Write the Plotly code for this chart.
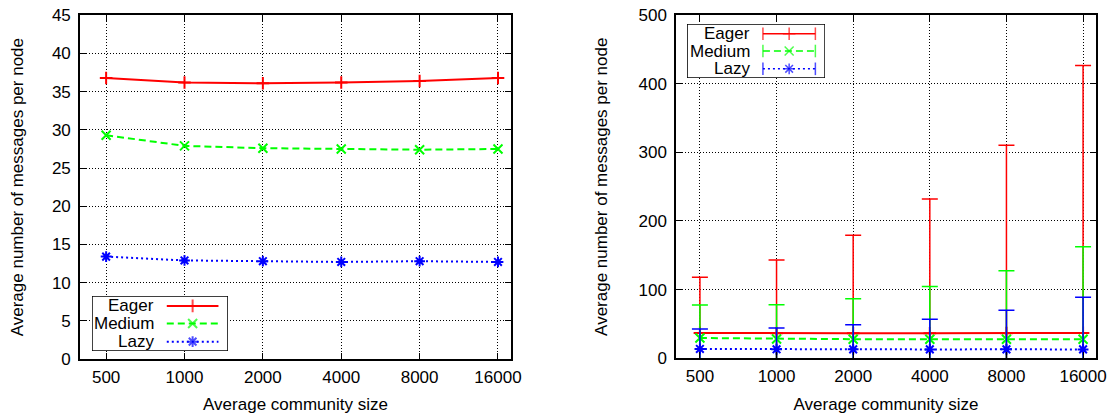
import plotly.graph_objects as go

# ---- data ----
sizes = [500, 1000, 2000, 4000, 8000, 16000]
tick_labels = ["500", "1000", "2000", "4000", "8000", "16000"]
series_names = ["Eager", "Medium", "Lazy"]
eager = [36.8, 36.2, 36.1, 36.2, 36.4, 36.8]
medium = [29.3, 27.9, 27.6, 27.5, 27.4, 27.5]
lazy = [13.4, 12.9, 12.8, 12.7, 12.8, 12.7]
eager_err = [81, 107, 143, 196, 274, 390]
medium_err = [48, 50, 59, 77, 100, 135]
lazy_err = [29, 31, 36, 44, 57, 76]
left_yticks = list(range(0, 46, 5))
right_yticks = list(range(0, 501, 100))

means = [eager, medium, lazy]
errs = [eager_err, medium_err, lazy_err]

# ---- style ----
colors = ["#ff0000", "#00ff00", "#0000ff"]
dashes = ["solid", "7px,4px", "2px,3px"]
symbols = ["cross-thin-open", "x-thin-open", "asterisk-open"]
FONT = "Liberation Sans, Arial, Helvetica, sans-serif"
FS = 17

fig = go.Figure()

# main data traces
for i, name in enumerate(series_names):
    fig.add_trace(go.Scatter(
        x=sizes, y=means[i], mode="lines+markers", name=name, showlegend=False,
        line=dict(color=colors[i], width=2, dash=dashes[i]),
        marker=dict(symbol=symbols[i], size=9, color=colors[i],
                    line=dict(color=colors[i], width=2)),
        xaxis="x", yaxis="y"))
for i, name in enumerate(series_names):
    fig.add_trace(go.Scatter(
        x=sizes, y=means[i], mode="lines+markers", name=name, showlegend=False,
        line=dict(color=colors[i], width=2, dash=dashes[i]),
        marker=dict(symbol=symbols[i], size=9, color=colors[i],
                    line=dict(color=colors[i], width=2)),
        error_y=dict(type="data", array=errs[i], symmetric=True,
                     color=colors[i], thickness=1.5, width=8),
        xaxis="x2", yaxis="y2"))

# custom gnuplot-style legends (text right, sample on the right)
legend_rows = [0.82, 0.5, 0.17]
for lx, ly, with_caps in (("x3", "y3", False), ("x4", "y4", True)):
    fig.add_shape(type="rect", xref=lx, yref=ly, x0=0, x1=1, y0=0, y1=1,
                  fillcolor="white", line=dict(color="black", width=1.5),
                  layer="below")
    for i, name in enumerate(series_names):
        fig.add_annotation(xref=lx, yref=ly, x=0.47, y=legend_rows[i], text=name,
                           showarrow=False, xanchor="right", yanchor="middle",
                           font=dict(family=FONT, size=FS, color="black"))
        if with_caps:
            syms = ["line-ns-open", symbols[i], "line-ns-open"]
            szs = [9, 9, 9]
        else:
            syms = [symbols[i]] * 3
            szs = [0, 9, 0]
        fig.add_trace(go.Scatter(
            x=[0.55, 0.74, 0.93], y=[legend_rows[i]] * 3, mode="lines+markers",
            showlegend=False, hoverinfo="skip",
            line=dict(color=colors[i], width=2 if not with_caps else 1.5, dash=dashes[i]),
            marker=dict(symbol=syms, size=szs, color=colors[i],
                        line=dict(color=colors[i], width=2 if not with_caps else 1.5)),
            xaxis=lx, yaxis=ly))

grid = dict(showgrid=True, gridcolor="black", gridwidth=1, griddash="1px,2px",
            showline=True, linecolor="black", linewidth=1.5, mirror="allticks",
            ticks="inside", ticklen=6, tickwidth=1, tickcolor="black",
            zeroline=False, automargin=False,
            tickfont=dict(family=FONT, size=FS, color="black"))
title_font = dict(family=FONT, size=FS, color="black")

fig.update_layout(
    width=1111, height=414, margin=dict(l=0, r=0, t=0, b=0),
    paper_bgcolor="white", plot_bgcolor="white", showlegend=False,
    font=dict(family=FONT, size=FS, color="black"),
    xaxis=dict(domain=[0.072, 0.46], type="log", range=[2.5986, 4.2543],
               tickvals=sizes, ticktext=tick_labels, anchor="y", ticklabelstandoff=2,
               title=dict(text="Average community size", font=title_font, standoff=14),
               **grid),
    yaxis=dict(domain=[0.133, 0.963], range=[0, 45], tickvals=left_yticks, anchor="x",
               ticklabelstandoff=4,
               title=dict(text="Average number of messages per node", font=title_font,
                          standoff=24),
               **grid),
    xaxis2=dict(domain=[0.6085, 0.9865], type="log", range=[2.6052, 4.2549],
                tickvals=sizes, ticktext=tick_labels, anchor="y2", ticklabelstandoff=2,
                title=dict(text="Average community size", font=title_font, standoff=14),
                **grid),
    yaxis2=dict(domain=[0.135, 0.963], range=[0, 500], tickvals=right_yticks, anchor="x2",
                ticklabelstandoff=4,
                title=dict(text="Average number of messages per node", font=title_font,
                           standoff=27),
                **grid),
    xaxis3=dict(domain=[0.0828, 0.2052], range=[0, 1], visible=False, anchor="y3"),
    yaxis3=dict(domain=[0.1522, 0.2850], range=[0, 1], visible=False, anchor="x3"),
    xaxis4=dict(domain=[0.6184, 0.7426], range=[0, 1], visible=False, anchor="y4"),
    yaxis4=dict(domain=[0.8116, 0.9420], range=[0, 1], visible=False, anchor="x4"),
)

fig.write_html("out.html")
